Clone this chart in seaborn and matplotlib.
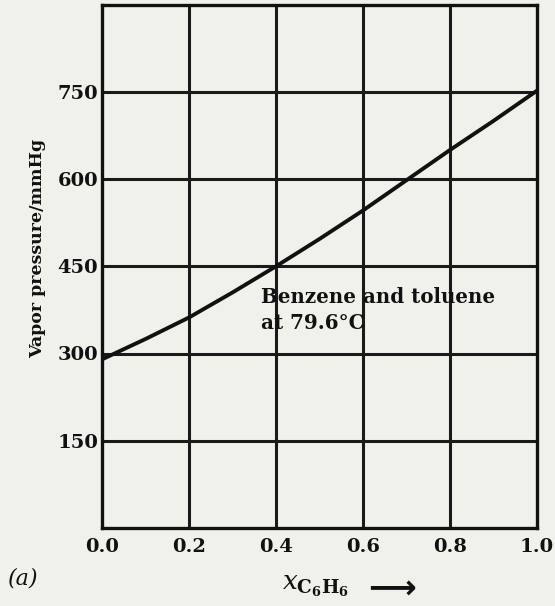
import matplotlib
matplotlib.use("Agg")
import matplotlib.pyplot as plt
import seaborn as sns
import pandas as pd

x_benzene = [0.0, 0.1, 0.2, 0.3, 0.4, 0.5, 0.6, 0.7, 0.8, 0.9, 1.0]
vapor_pressure = [290, 325, 362, 405, 450, 497, 546, 598, 650, 700, 752]
x_ticks = [0.0, 0.2, 0.4, 0.6, 0.8, 1.0]
y_ticks = [150, 300, 450, 600, 750]

df = pd.DataFrame({"x": x_benzene, "p": vapor_pressure})

sns.set_theme(style="white")
plt.rcParams['font.family'] = ['DejaVu Serif', 'DejaVu Sans']
plt.rcParams['mathtext.fontset'] = 'dejavuserif'
bg = "#f1f1ec"
ink = "#111111"

fig = plt.figure(figsize=(5.55, 6.06), dpi=100, facecolor=bg)
ax = fig.add_axes([0.184, 0.129, 0.783, 0.863])
ax.set_facecolor(bg)

sns.lineplot(data=df, x="x", y="p", ax=ax, color=ink, linewidth=2.8)

ax.set_xlim(0, 1.0)
ax.set_ylim(0, 900)
ax.set_xticks(x_ticks)
ax.set_yticks(y_ticks)
ax.set_xticklabels([f"{t:.1f}" for t in x_ticks], fontsize=14, fontweight="bold")
ax.set_yticklabels([str(t) for t in y_ticks], fontsize=14, fontweight="bold")
ax.tick_params(axis="x", length=0, pad=7, colors=ink)
ax.tick_params(axis="y", length=0, pad=3, colors=ink)

for t in x_ticks[1:-1]:
    ax.axvline(t, color="#1a1a1a", linewidth=2.2, zorder=1)
for t in y_ticks:
    ax.axhline(t, color="#1a1a1a", linewidth=2.2, zorder=1)
for s in ax.spines.values():
    s.set_visible(True)
    s.set_color(ink)
    s.set_linewidth(2.4)

ax.set_ylabel("Vapor pressure/mmHg", fontsize=12.5, fontweight="bold", color=ink)
ax.yaxis.set_label_coords(-0.128, 0.535)
ax.set_xlabel(r"$x_{\mathbf{C_6H_6}}$", fontsize=19, color=ink)
ax.xaxis.set_label_coords(0.49, -0.088)
ax.xaxis.label.set_verticalalignment("top")

fig.text(0.706, 0.03, "\u27f6", fontsize=24, fontweight="bold", color=ink,
         family=["DejaVu Sans"], ha="center", va="center")

ax.text(0.366, 415, "Benzene and toluene\nat 79.6°C", fontsize=14.3, fontweight="bold",
        va="top", ha="left", color=ink, linespacing=1.4)

fig.text(0.015, 0.035, "(a)", fontsize=16, style="italic", color=ink)

fig.savefig("out.png", dpi=100, facecolor=bg)
